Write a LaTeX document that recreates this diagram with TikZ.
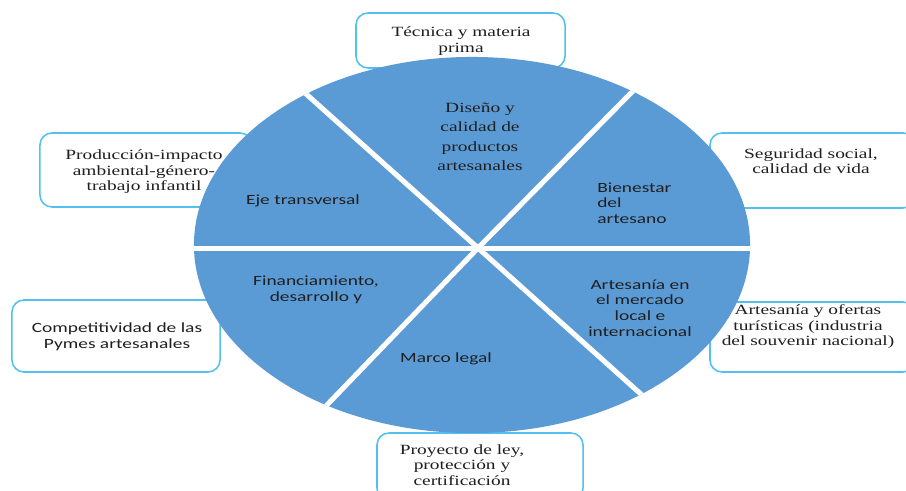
\documentclass[tikz,border=0pt]{standalone}
\usepackage{fontspec}
\newfontfamily\serifbox[FakeStretch=1.38]{Liberation Serif}
\newfontfamily\sansbox[FakeStretch=1.38]{Carlito}
\usetikzlibrary{positioning, calc}
\definecolor{pBlue}{HTML}{5B9BD5}
\definecolor{pEdge}{HTML}{52C1F0}
\definecolor{pInk}{HTML}{1F1F1F}

\begin{document}
\begin{tikzpicture}[x=0.025cm, y=-0.025cm,
  obox/.style={draw=pEdge, line width=1.1pt, fill=white, rounded corners=0.3cm, inner sep=0pt},
  otxt/.style={font=\serifbox\fontsize{10}{11}\selectfont, align=center, text=pInk, inner sep=0pt},
  stxt/.style={font=\sansbox\fontsize{10}{11.2}\selectfont, align=center, text=pInk, inner sep=0pt},
  sep/.style={white, line width=3.6pt},
]
  \useasboundingbox (0,0) rectangle (906,491);
  \clip (0,0) rectangle (906,491);

  % Outer boxes
  \node[obox, minimum width=5.225cm, minimum height=1.375cm] (bTec) at (460.5,40.5) {};
  \node[obox, minimum width=5.3cm, minimum height=1.85cm] (bProd) at (146,170) {};
  \node[obox, minimum width=5.125cm, minimum height=1.875cm] (bSeg) at (812.5,170.5) {};
  \node[obox, minimum width=5.2cm, minimum height=1.8cm] (bComp) at (116,336) {};
  \node[obox, minimum width=5.125cm, minimum height=1.75cm] (bTur) at (812.5,337) {};
  \node[obox, minimum width=5.15cm, minimum height=1.675cm] (bLey) at (480,466.5) {};

  % Pie
  \fill[pBlue] (472,245) ellipse [x radius=6.95cm, y radius=4.7cm];
  \begin{scope}
    \clip (472,245) ellipse [x radius=6.95cm, y radius=4.7cm];
    \coordinate (hub) at (478,248);
    \foreach \ex/\ey in {305/93, 629/95, 325/407, 643/396}
      \draw[sep] (hub) -- ($(hub)!1.1!(\ex,\ey)$);
    \coordinate (eW) at (180,248.5);
    \coordinate (eE) at (760,248.5);
    \draw[sep] (eW) -- (eE);
  \end{scope}

  % Sector labels
  \node[otxt, font=\serifbox\fontsize{10}{13.8}\selectfont] (sDis) at (480,137) {Diseño y\\calidad de\\productos\\artesanales};
  \node[stxt] (sEje) at (303,201) {Eje transversal};
  \node[stxt, align=left, anchor=west] (sBien) at (597,203) {Bienestar\\del\\artesano};
  \node[stxt] (sFin) at (316,290) {Financiamiento,\\desarrollo y};
  \node[stxt] (sMar) at (446,359) {Marco legal};
  \node[stxt] (sArt) at (640,308) {Artesanía en\\el mercado\\local e\\internacional};

  % Box texts
  \node[otxt] (tTec) at (461,41) {Técnica y materia\\prima};
  \node[otxt] (tProd) at (144,172) {Producción-impacto\\ambiental-género-\\trabajo infantil};
  \node[otxt] (tSeg) at (811,161) {Seguridad social,\\calidad de vida};
  \node[stxt] (tComp) at (117,337) {Competitividad de las\\Pymes artesanales};
  \node[otxt] (tTur) at (808,327) {Artesanía y ofertas\\turísticas (industria\\del souvenir nacional)};
  \node[otxt] (tLey) at (462,465) {Proyecto de ley,\\protección y\\certificación};
\end{tikzpicture}
\end{document}
